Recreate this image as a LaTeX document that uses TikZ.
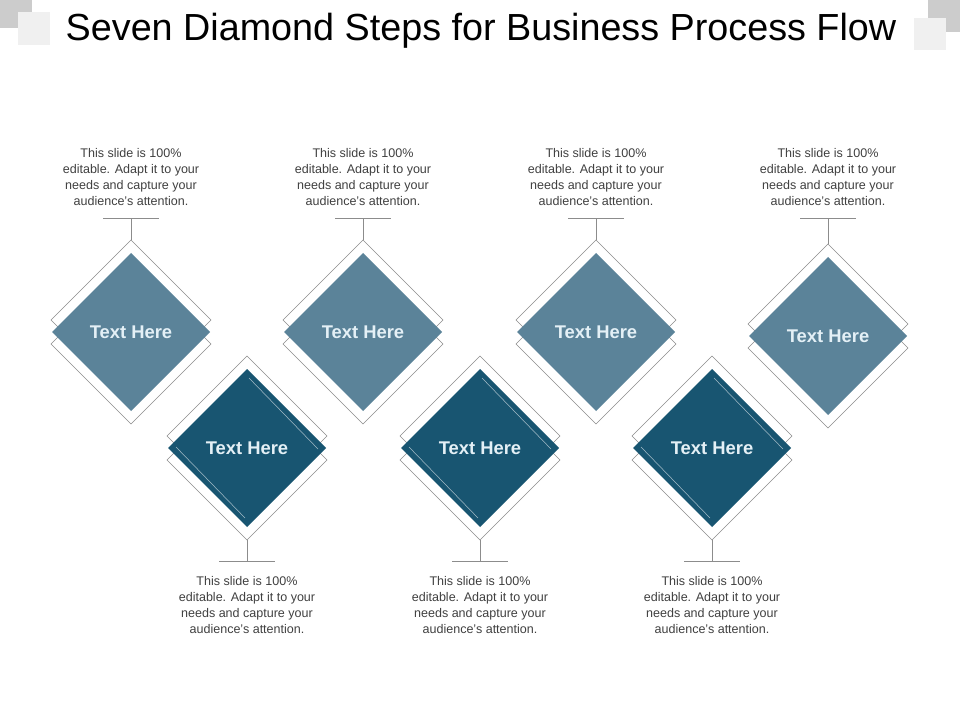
\documentclass[tikz,border=0pt]{standalone}
\usepackage{fontspec}
\setmainfont{Liberation Sans}
\definecolor{lightd}{HTML}{5B8399}
\definecolor{darkd}{HTML}{185571}
\definecolor{txtc}{HTML}{E4F0F6}
\definecolor{bodyc}{HTML}{404040}
\begin{document}
\begin{tikzpicture}[x=0.75pt,y=-0.75pt,
  outl/.style={draw=gray!90,line width=0.5pt,fill=white},
  lbl/.style={font=\bfseries\fontsize{13.8}{15}\selectfont,text=txtc},
  body/.style={font=\fontsize{9.4}{12}\selectfont,text=bodyc,align=center},
  stem/.style={draw=gray!90,line width=0.5pt}]
\fill[white] (0,0) rectangle (960,720);
\useasboundingbox (0,0) rectangle (960,720);
\fill[gray!40] (0,0) rectangle (32,28);
\fill[gray!12] (18,12) rectangle (50,45);
\fill[gray!40] (928,0) rectangle (960,32);
\fill[gray!12] (914,18) rectangle (946,50);
\node[font=\fontsize{28.3}{30}\selectfont] (title) at (481,31) {Seven Diamond Steps for Business Process Flow};
\newcommand{\updiam}[4]{% name, x, y, label
  \draw[outl] (#2,#3-92) -- (#2+80,#3-12) -- (#2,#3+68) -- (#2-80,#3-12) -- cycle;
  \draw[outl] (#2,#3-68) -- (#2+80,#3+12) -- (#2,#3+92) -- (#2-80,#3+12) -- cycle;
  \fill[lightd] (#2,#3-79) -- (#2+79,#3) -- (#2,#3+79) -- (#2-79,#3) -- cycle;
  \node[lbl] (#1) at (#2,#3) {#4};
  \coordinate (#1t) at (#2,#3-92);
  \coordinate (#1b) at (#2,218);
  \draw[stem] (#1t) -- (#1b);
  \draw[stem] ([xshift=-21]#1b) -- ([xshift=21]#1b);
  \node[body] (#1x) at (#2,177) {This slide is 100\%\\editable. Adapt it to your\\needs and capture your\\audience's attention.};
}
\newcommand{\dndiam}[4]{%
  \draw[outl] (#2,#3-92) -- (#2+80,#3-12) -- (#2,#3+68) -- (#2-80,#3-12) -- cycle;
  \draw[outl] (#2,#3-68) -- (#2+80,#3+12) -- (#2,#3+92) -- (#2-80,#3+12) -- cycle;
  \fill[darkd] (#2,#3-79) -- (#2+79,#3) -- (#2,#3+79) -- (#2-79,#3) -- cycle;
  \draw[white!60!darkd,line width=0.4pt] (#2+2,#3-70) -- (#2+71,#3+1);
  \draw[white!60!darkd,line width=0.4pt] (#2-71,#3-1) -- (#2-2,#3+70);
  \node[lbl] (#1) at (#2,#3) {#4};
  \coordinate (#1t) at (#2,#3+92);
  \coordinate (#1b) at (#2,561);
  \draw[stem] (#1t) -- (#1b);
  \draw[stem] ([xshift=-21]#1b) -- ([xshift=21]#1b);
  \node[body] (#1x) at (#2,605) {This slide is 100\%\\editable. Adapt it to your\\needs and capture your\\audience's attention.};
}
\updiam{a}{131}{332}{Text Here}
\updiam{c}{363}{332}{Text Here}
\updiam{e}{596}{332}{Text Here}
\updiam{g}{828}{336}{Text Here}
\dndiam{b}{247}{448}{Text Here}
\dndiam{d}{480}{448}{Text Here}
\dndiam{f}{712}{448}{Text Here}
\end{tikzpicture}
\end{document}
